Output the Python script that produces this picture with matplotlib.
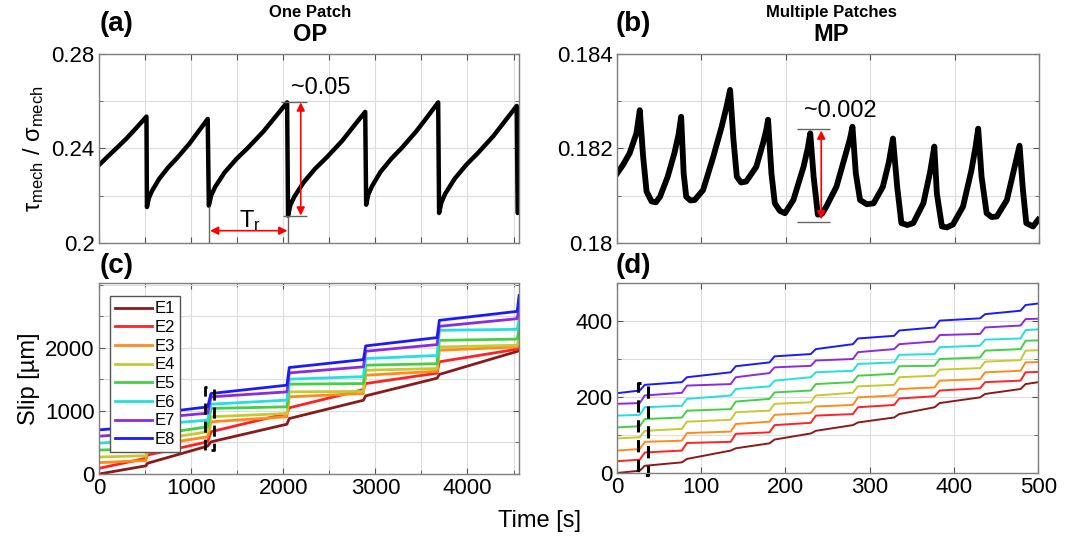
import numpy as np
import matplotlib.pyplot as plt
from matplotlib.ticker import MultipleLocator

plt.rcParams['font.family'] = ['Liberation Sans', 'DejaVu Sans']
plt.rcParams['mathtext.fontset'] = 'custom'
plt.rcParams['mathtext.rm'] = 'Liberation Sans'
plt.rcParams['mathtext.it'] = 'Liberation Sans:italic'

# (a) One Patch - shear/normal stress ratio
op_t = [0, 100, 200, 300, 400, 515,
        520, 540, 573, 652, 751, 850, 982, 1081, 1180,
        1192, 1218, 1260, 1362, 1490, 1617, 1787, 1915, 2042,
        2052, 2077, 2119, 2220, 2345, 2471, 2639, 2764, 2890,
        2900, 2923, 2963, 3056, 3174, 3291, 3447, 3565, 3682,
        3692, 3717, 3759, 3861, 3987, 4114, 4282, 4409, 4535,
        4545, 4560]
op_v = [0.2330, 0.2368, 0.2405, 0.2443, 0.2485, 0.2535,
        0.2152, 0.2189, 0.2219, 0.2271, 0.2320, 0.2361, 0.2421, 0.2473, 0.2525,
        0.2158, 0.2202, 0.2237, 0.2298, 0.2355, 0.2403, 0.2473, 0.2534, 0.2595,
        0.2116, 0.2160, 0.2195, 0.2256, 0.2314, 0.2362, 0.2432, 0.2494, 0.2555,
        0.2162, 0.2205, 0.2240, 0.2301, 0.2357, 0.2404, 0.2474, 0.2534, 0.2595,
        0.2127, 0.2172, 0.2209, 0.2272, 0.2331, 0.2381, 0.2453, 0.2517, 0.2580,
        0.2127, 0.2130]

# (b) Multiple Patches
mp_t = [0, 7, 15, 23, 27, 31, 35, 41, 46, 51, 60, 68, 73, 76, 79, 82, 87, 92, 102,
        114, 124, 130, 134, 138, 142, 147, 153, 165, 173, 177, 179, 183, 187, 193,
        199, 209, 221, 226, 229, 233, 238, 243, 248, 260, 270, 276, 279, 283, 288,
        296, 304, 315, 322, 327, 332, 337, 344, 351, 363, 371, 376, 379, 385, 391,
        398, 410, 420, 425, 428, 432, 438, 444, 450, 462, 471, 477, 481, 485, 493, 499]
mp_v = [0.18147, 0.18165, 0.18190, 0.18232, 0.18281, 0.18182, 0.18109, 0.18088,
        0.18086, 0.18098, 0.18140, 0.18190, 0.18230, 0.18267, 0.18147, 0.18098,
        0.18090, 0.18091, 0.18112, 0.18182, 0.18246, 0.18290, 0.18324, 0.18218,
        0.18140, 0.18128, 0.18130, 0.18161, 0.18211, 0.18240, 0.18261, 0.18147,
        0.18084, 0.18068, 0.18063, 0.18091, 0.18161, 0.18200, 0.18232, 0.18140,
        0.18060, 0.18062, 0.18077, 0.18119, 0.18182, 0.18220, 0.18246, 0.18147,
        0.18091, 0.18082, 0.18084, 0.18119, 0.18170, 0.18221, 0.18119, 0.18042,
        0.18038, 0.18042, 0.18084, 0.18150, 0.18204, 0.18105, 0.18035, 0.18033,
        0.18039, 0.18077, 0.18154, 0.18205, 0.18242, 0.18140, 0.18063, 0.18055,
        0.18056, 0.18091, 0.18160, 0.18206, 0.18112, 0.18042, 0.18035, 0.18049]

# (c) slip, one patch
names = ['E1', 'E2', 'E3', 'E4', 'E5', 'E6', 'E7', 'E8']
colors = ['#8B1A1A', '#FF2222', '#FF8C1A', '#C8C832', '#44D044', '#22E0E0', '#8A2BE2', '#1A1AFF']
slip_op_t = [0, 510, 525, 1180, 1215, 2040, 2065, 2870, 2895, 3670, 3695, 4540, 4560]
slip_op = [
    [0, 130, 170, 443, 510, 790, 880, 1170, 1240, 1520, 1580, 1945, 1960],
    [90, 250, 300, 511, 670, 960, 1050, 1340, 1435, 1600, 1780, 1980, 2000],
    [180, 215, 440, 590, 828, 908, 1224, 1277, 1567, 1630, 1963, 2016, 2060],
    [270, 290, 520, 670, 908, 960, 1303, 1310, 1646, 1673, 2016, 2042, 2150],
    [380, 400, 610, 749, 1040, 1066, 1425, 1435, 1726, 1750, 2120, 2140, 2300],
    [490, 540, 780, 854, 1108, 1172, 1504, 1545, 1831, 1880, 2280, 2295, 2450],
    [600, 650, 880, 965, 1224, 1303, 1604, 1700, 1947, 2053, 2343, 2464, 2640],
    [700, 760, 950, 1065, 1277, 1409, 1689, 1815, 2032, 2164, 2438, 2580, 2830],
]

# (d) slip, multiple patches
slip_mp_t = [0, 27, 33, 77, 83, 135, 141, 181, 187, 230, 236, 280, 286, 329, 335,
             377, 383, 431, 437, 479, 485, 500]
slip_mp = [
    [0, 6, 19, 28, 37, 59, 65, 78, 88, 104, 111, 126, 133, 146, 155, 173, 184, 199, 208, 221, 234, 239],
    [31, 35, 54, 59, 79, 82, 103, 107, 126, 132, 151, 155, 173, 179, 196, 202, 217, 223, 239, 243, 265, 266],
    [59, 63, 82, 85, 105, 109, 129, 135, 153, 158, 175, 179, 199, 204, 221, 225, 243, 247, 265, 269, 291, 292],
    [91, 94, 111, 116, 135, 140, 160, 164, 182, 186, 204, 211, 228, 232, 252, 256, 272, 276, 293, 297, 322, 323],
    [120, 123, 142, 146, 164, 168, 188, 195, 212, 217, 234, 239, 256, 261, 281, 282, 300, 304, 322, 326, 348, 349],
    [151, 153, 173, 177, 195, 204, 221, 228, 243, 252, 265, 269, 287, 291, 311, 313, 331, 335, 351, 354, 376, 378],
    [182, 184, 204, 211, 230, 234, 252, 263, 278, 282, 296, 300, 318, 326, 339, 346, 363, 366, 383, 388, 405, 406],
    [210, 217, 232, 239, 252, 265, 281, 291, 307, 313, 326, 339, 354, 361, 375, 383, 401, 407, 418, 427, 442, 446],
]

fig = plt.figure(figsize=(10.8, 5.37), dpi=100)
ax_a = fig.add_axes([0.0917, 0.5475, 0.3889, 0.352])
ax_b = fig.add_axes([0.5713, 0.5475, 0.3907, 0.352])
ax_c = fig.add_axes([0.0917, 0.1173, 0.3889, 0.3557])
ax_d = fig.add_axes([0.5713, 0.1192, 0.3900, 0.3538])


def style(ax):
    for s in ax.spines.values():
        s.set_color('#7f7f7f')
        s.set_linewidth(1.0)
    ax.grid(True, which='both', color='#dcdcdc', lw=0.8)
    ax.set_axisbelow(True)
    ax.tick_params(which='both', direction='in', top=True, right=True,
                   length=4, color='#555555', labelsize=16, pad=3)
    ax.tick_params(which='minor', length=3)


# (a)
ax_a.plot(op_t, op_v, color='black', lw=3.2)
ax_a.set_xlim(0, 4560)
ax_a.set_ylim(0.2, 0.28)
ax_a.xaxis.set_major_locator(MultipleLocator(500))
ax_a.set_xticklabels([])
ax_a.set_yticks([0.2, 0.24, 0.28])
ax_a.set_yticklabels(['0.2', '0.24', '0.28'])
ax_a.yaxis.set_minor_locator(MultipleLocator(0.02))
style(ax_a)
ax_a.set_ylabel(r'τ$_{\mathrm{mech}}$ / σ$_{\mathrm{mech}}$', fontsize=17, labelpad=4)
ax_a.hlines([0.2595, 0.2116], [1980, 2000], 2260, color='#666666', lw=1)
ax_a.vlines([1195, 2050], [0.2158, 0.2116], 0.2, color='#666666', lw=1)
ax_a.annotate('', xy=(2190, 0.2595), xytext=(2190, 0.2116),
              arrowprops=dict(arrowstyle='<|-|>', color='red', lw=1.2, mutation_scale=12,
                              shrinkA=0, shrinkB=0))
ax_a.annotate('', xy=(1205, 0.2052), xytext=(2045, 0.2052),
              arrowprops=dict(arrowstyle='<|-|>', color='red', lw=1.2, mutation_scale=12,
                              shrinkA=0, shrinkB=0))
ax_a.text(2080, 0.2655, '~0.05', fontsize=17, ha='left', va='center')
ax_a.text(1640, 0.2095, r'T$_\mathrm{r}$', fontsize=17, ha='center', va='center')

# (b)
ax_b.plot(mp_t, mp_v, color='black', lw=4.2)
ax_b.set_xlim(0, 500)
ax_b.set_ylim(0.18, 0.184)
ax_b.xaxis.set_major_locator(MultipleLocator(100))
ax_b.set_xticklabels([])
ax_b.set_yticks([0.18, 0.182, 0.184])
ax_b.set_yticklabels(['0.18', '0.182', '0.184'])
ax_b.yaxis.set_minor_locator(MultipleLocator(0.001))
style(ax_b)
ax_b.hlines([0.18241, 0.18045], 213, 252, color='#666666', lw=1)
ax_b.annotate('', xy=(242, 0.18238), xytext=(242, 0.18050),
              arrowprops=dict(arrowstyle='<|-|>', color='red', lw=1.2, mutation_scale=12,
                              shrinkA=0, shrinkB=0))
ax_b.text(222, 0.1828, '~0.002', fontsize=17, ha='left', va='center')

# (c)
for y, c, n in zip(slip_op, colors, names):
    ax_c.plot(slip_op_t, y, color=c, lw=2, label=n)
ax_c.set_xlim(0, 4560)
ax_c.set_ylim(0, 3030)
ax_c.set_xticks([0, 1000, 2000, 3000, 4000])
ax_c.xaxis.set_minor_locator(MultipleLocator(500))
ax_c.set_yticks([0, 1000, 2000])
ax_c.yaxis.set_minor_locator(MultipleLocator(500))
style(ax_c)
ax_c.set_ylabel('Slip [µm]', fontsize=17, labelpad=4)
ax_c.plot([1175, 1150, 1150], [1380, 1380, 380], color='black', lw=2, ls=(0, (4, 2.5)))
ax_c.plot([1245, 1245, 1220], [1350, 380, 380], color='black', lw=2, ls=(0, (4, 2.5)))
leg = ax_c.legend(loc='upper left', fontsize=12, handlelength=2.2, labelspacing=0.22,
                  borderaxespad=0, borderpad=0.3, handletextpad=0.15, fancybox=False,
                  framealpha=1, bbox_to_anchor=(0.027, 0.93))
leg.get_frame().set_edgecolor('#555555')
leg.get_frame().set_linewidth(1)

# (d)
for y, c in zip(slip_mp, colors):
    ax_d.plot(slip_mp_t, y, color=c, lw=1.4)
ax_d.set_xlim(0, 500)
ax_d.set_ylim(0, 500)
ax_d.xaxis.set_major_locator(MultipleLocator(100))
ax_d.set_yticks([0, 200, 400])
ax_d.yaxis.set_minor_locator(MultipleLocator(100))
style(ax_d)
ax_d.plot([29, 25, 25], [236, 236, -4], color='black', lw=2.2, ls=(0, (4, 2.5)), clip_on=False)
ax_d.plot([37, 37, 32], [228, -4, -4], color='black', lw=2.2, ls=(0, (4, 2.5)), clip_on=False)

# titles and panel tags
fig.text(0.092, 0.955, '(a)', fontsize=20, fontweight='bold', ha='left', va='center')
fig.text(0.287, 0.977, 'One Patch', fontsize=12, fontweight='bold', ha='center', va='center')
fig.text(0.287, 0.935, 'OP', fontsize=17, fontweight='bold', ha='center', va='center')
fig.text(0.570, 0.955, '(b)', fontsize=20, fontweight='bold', ha='left', va='center')
fig.text(0.770, 0.977, 'Multiple Patches', fontsize=12, fontweight='bold', ha='center', va='center')
fig.text(0.770, 0.935, 'MP', fontsize=17, fontweight='bold', ha='center', va='center')
fig.text(0.092, 0.505, '(c)', fontsize=20, fontweight='bold', ha='left', va='center')
fig.text(0.570, 0.505, '(d)', fontsize=20, fontweight='bold', ha='left', va='center')
fig.text(0.500, 0.030, 'Time [s]', fontsize=17, ha='center', va='center')

fig.savefig('out.png', dpi=100)
